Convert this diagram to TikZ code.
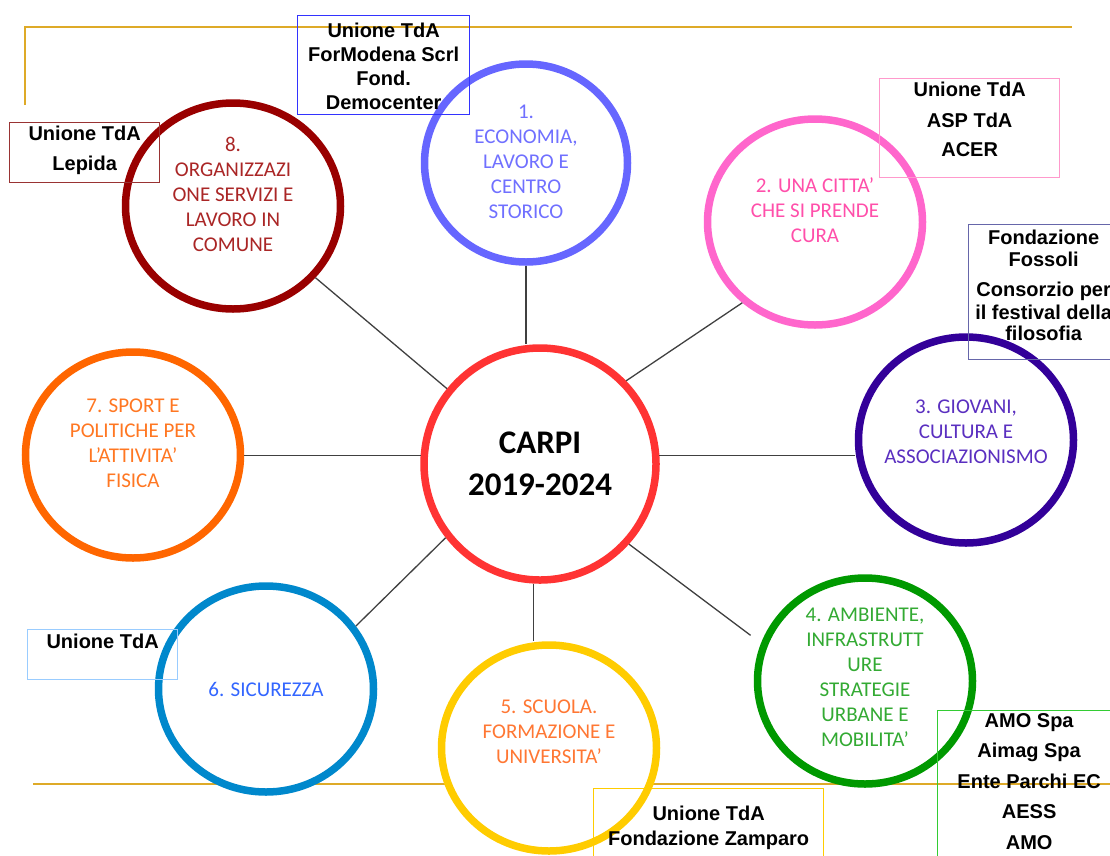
\documentclass[tikz,border=0pt]{standalone}
\usepackage{fontspec}
\setmainfont{Carlito}
\newfontfamily\partnerfont{Liberation Sans}
\usetikzlibrary{shapes.geometric,positioning}

% ring colours (circle, text)
\definecolor{hubRed}{HTML}{FF3333}
\definecolor{ringOne}{HTML}{6666FF}   \definecolor{textOne}{HTML}{7070FF}
\definecolor{ringTwo}{HTML}{FF66CC}   \definecolor{textTwo}{HTML}{FF4FAA}
\definecolor{ringThree}{HTML}{330099} \definecolor{textThree}{HTML}{5A2FC0}
\definecolor{ringFour}{HTML}{009900}  \definecolor{textFour}{HTML}{33AA33}
\definecolor{ringFive}{HTML}{FFCC00}  \definecolor{textFive}{HTML}{FF7733}
\definecolor{ringSix}{HTML}{0088CC}   \definecolor{textSix}{HTML}{3366FF}
\definecolor{ringSeven}{HTML}{FF6600} \definecolor{textSeven}{HTML}{FF7722}
\definecolor{ringEight}{HTML}{990000} \definecolor{textEight}{HTML}{AA2626}
% partner boxes and rules
\definecolor{boxBlue}{HTML}{3333FF}
\definecolor{boxRed}{HTML}{993333}
\definecolor{boxPink}{HTML}{FF99CC}
\definecolor{boxSlate}{HTML}{6666AA}
\definecolor{boxGreen}{HTML}{33CC33}
\definecolor{boxYellow}{HTML}{FFCC00}
\definecolor{boxSky}{HTML}{99CCFF}
\definecolor{gold}{RGB}{222,170,40}
\definecolor{linkGray}{HTML}{404040}

\tikzset{
    topic/.style={ellipse, line width=7.5pt, fill=white, minimum width=215pt, minimum height=206pt, inner sep=0pt},
    topictext/.style={align=center, inner sep=0pt, font=\fontsize{21}{25}\selectfont},
    hub/.style={circle, draw=hubRed, line width=7.5pt, fill=white, minimum size=232pt, inner sep=0pt, align=center, font=\bfseries\fontsize{33}{42}\selectfont},
    partner/.style={draw, line width=1.3pt, inner sep=0pt},
    partnertext/.style={align=center, inner sep=0pt, font=\partnerfont\bfseries\fontsize{20}{24}\selectfont},
    link/.style={draw=linkGray, line width=1.3pt},
    rule/.style={draw=gold, line width=1.8pt}
}

\newcommand{\drawTopic}[7]{
    \node[topic, #4] (#1) at (#2,#3) {};
    \node[topictext, text=#5] (#1-label) at (#2,#3+#6) {#7};
}
\newcommand{\drawPartners}[8]{
    \node[partner, draw=#6, anchor=north west, minimum width=#4-#2, minimum height=#5-#3] (#1) at (#2,#3) {};
    \node[partnertext, below=#7 of #1.north] (#1-text) {#8};
}

\begin{document}
\begin{tikzpicture}[x=1pt, y=-1pt]
\useasboundingbox (0,0) rectangle (1110,855);

% Frame rules
\draw[rule] (25,105) -- (25,27) -- (1072,27);
\draw[rule] (33,784) -- (1110,784);

% Centre
\node[hub] (carpi) at (540,464) {CARPI\\2019-2024};

% The eight topics
\drawTopic{c1}{526}{163}{draw=ringOne, minimum width=203pt, minimum height=198pt}{textOne}{-1}{1.\\ECONOMIA,\\LAVORO E\\CENTRO\\STORICO}
\drawTopic{c2}{815}{222}{draw=ringTwo}{textTwo}{-12}{2. UNA CITTA’\\CHE SI PRENDE\\CURA}
\drawTopic{c3}{966}{440}{draw=ringThree}{textThree}{-8}{3. GIOVANI,\\CULTURA E\\ASSOCIAZIONISMO}
\drawTopic{c4}{865}{681}{draw=ringFour}{textFour}{-4}{4. AMBIENTE,\\INFRASTRUTT\\URE\\STRATEGIE\\URBANE E\\MOBILITA’}
\drawTopic{c5}{549}{748}{draw=ringFive}{textFive}{-16}{5. SCUOLA.\\FORMAZIONE E\\UNIVERSITA’}
\drawTopic{c6}{266}{689}{draw=ringSix}{textSix}{0}{6. SICUREZZA}
\drawTopic{c7}{133}{455}{draw=ringSeven}{textSeven}{-12}{7. SPORT E\\POLITICHE PER\\L’ATTIVITA’\\FISICA}
\drawTopic{c8}{233}{206}{draw=ringEight}{textEight}{-12}{8.\\ORGANIZZAZI\\ONE SERVIZI E\\LAVORO IN\\COMUNE}

% Spokes
\draw[link] (c1.south) -- (c1.south |- carpi.north);
\draw[link] (carpi.44) -- (c2.228);
\draw[link] (carpi.4) -- (carpi.4 -| c3.west);
\draw[link, shorten >=13pt] (carpi.318) -- (c4.160);
\draw[link] (carpi.267) -- (carpi.267 |- c5.north);
\draw[link] (carpi.218) -- (c6.35);
\draw[link] (carpi.176) -- (carpi.176 -| c7.east);
\draw[link] (carpi.141) -- (c8.319);

% Partners
\drawPartners{democenter}{297}{15}{469}{114}{boxBlue}{8pt}{Unione TdA\\ForModena Scrl\\Fond.\\Democenter}
\drawPartners{lepida}{9}{122}{159}{182}{boxRed}{4pt}{Unione TdA\\[6pt]Lepida}
\drawPartners{asp}{879}{78}{1059}{177}{boxPink}{4pt}{Unione TdA\\[7pt]ASP TdA\\[5pt]ACER}
\drawPartners{fossoli}{968}{224}{1118}{359}{boxSlate}{6pt}{Fondazione\\[-2pt]Fossoli\\[6pt]Consorzio per\\[-1pt]il festival della\\[-3pt]filosofia}
\drawPartners{amo}{937}{710}{1120}{900}{boxGreen}{3pt}{AMO Spa\\[6pt]Aimag Spa\\[7pt]Ente Parchi EC\\[6pt]AESS\\[7pt]AMO}
\drawPartners{zamparo}{593}{788}{823}{900}{boxYellow}{18pt}{Unione TdA\\[1pt]Fondazione Zamparo}
\drawPartners{sicurezza}{27}{629}{177}{679}{boxSky}{5pt}{Unione TdA}

\end{tikzpicture}
\end{document}
